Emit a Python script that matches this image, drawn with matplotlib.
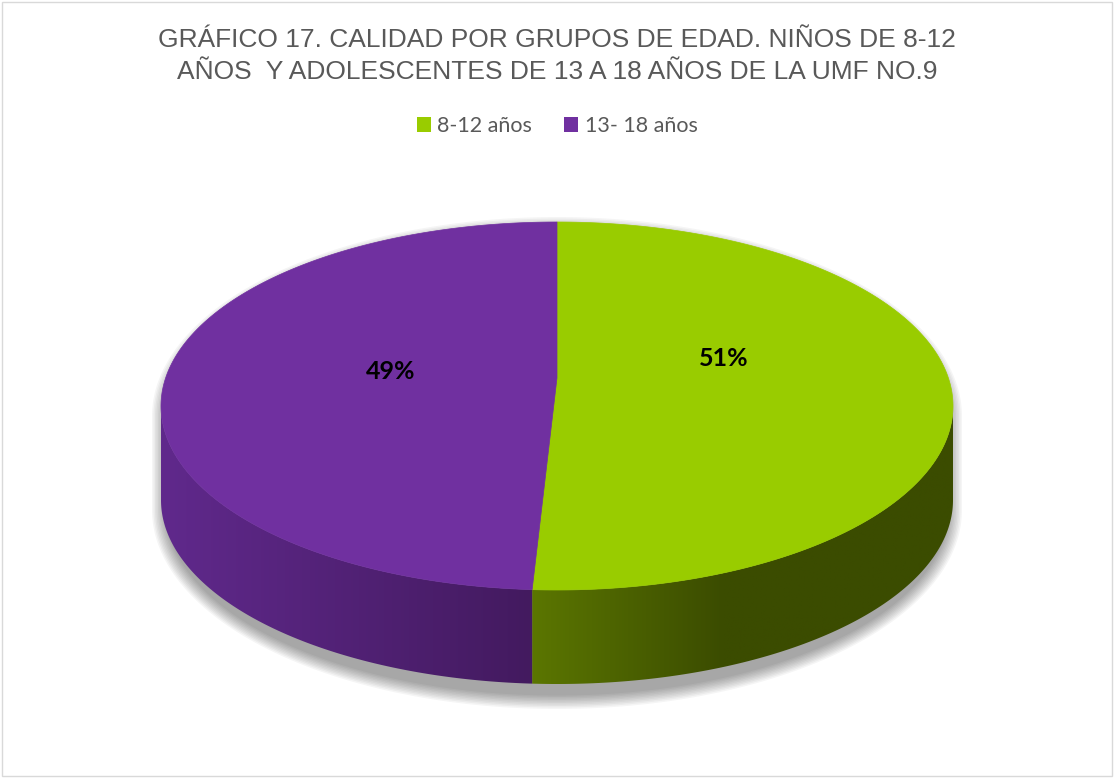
import matplotlib
matplotlib.use('Agg')
import matplotlib.pyplot as plt
import numpy as np
from matplotlib.patches import Polygon, Rectangle
from matplotlib.colors import to_rgb

# datos
categorias = ['8-12 años', '13- 18 años']
valores = [51, 49]
colores_top = ['#99CC00', '#7030A0']
# degradado de las paredes laterales (inicio, fin)
colores_lado = [('#5b7600', '#3b4c00'), ('#60298c', '#431a5f')]

titulo = ('GRÁFICO 17. CALIDAD POR GRUPOS DE EDAD. NIÑOS DE 8-12\n'
          'AÑOS  Y ADOLESCENTES DE 13 A 18 AÑOS DE LA UMF NO.9')

W, H = 1114, 778
fig = plt.figure(figsize=(W / 100, H / 100), dpi=100)
ax = fig.add_axes([0, 0, 1, 1])
ax.set_xlim(0, W)
ax.set_ylim(H, 0)
ax.axis('off')

# geometría de la tarta (px)
cx, cy = 557, 406
a, b = 396, 184
depth = 94
apex = (557, 378)


def punto(theta_deg, dy=0):
    t = np.radians(theta_deg)
    return cx + a * np.cos(t), cy - b * np.sin(t) + dy


# ángulos de cada porción (sentido horario desde arriba)
total = sum(valores)
inicio = 90.0
angulos = []
for v in valores:
    fin = inicio - 360.0 * v / total
    angulos.append((inicio, fin))
    inicio = fin

# sombra difusa
th = np.linspace(0, 360, 400)
for k in range(10, 0, -1):
    grow = k * 1.5
    sx = cx + (a + grow - 6) * np.cos(np.radians(th))
    sy = cy + 10 - (b + grow) * np.sin(np.radians(th))
    sy = np.where(np.sin(np.radians(th)) < 0, sy + depth, sy)
    ax.add_patch(Polygon(np.column_stack([sx, sy]), closed=True,
                         facecolor='#000000', edgecolor='none',
                         alpha=0.04, zorder=1))

# paredes laterales (mitad frontal)
for (t1, t2), (c0, c1) in zip(angulos, colores_lado):
    lo, hi = min(t1, t2), max(t1, t2)
    segs = []
    for off in (-360, 0, 360):
        s, e = max(lo + off, 180), min(hi + off, 360)
        if e > s:
            segs.append((s, e))
    for s, e in segs:
        tt = np.linspace(s, e, 200)
        top = np.array([punto(t) for t in tt])
        bot = np.array([punto(t, depth) for t in tt[::-1]])
        poly = Polygon(np.vstack([top, bot]), closed=True,
                       facecolor='none', edgecolor='none', zorder=2)
        ax.add_patch(poly)
        x0, x1 = top[:, 0].min(), top[:, 0].max()
        n = 256
        r0, r1 = np.array(to_rgb(c0)), np.array(to_rgb(c1))
        if c0 == colores_lado[0][0]:
            # verde: oscurece rápido desde la unión
            f = np.clip(np.linspace(0, 1, n) * 2.2, 0, 1)
        else:
            f = np.linspace(0, 1, n)
        grad = r0[None, :] * (1 - f[:, None]) + r1[None, :] * f[:, None]
        img = np.tile(grad[None, :, :], (2, 1, 1))
        im = ax.imshow(img, extent=[x0, x1, cy + b + depth + 5, cy - 5],
                       aspect='auto', zorder=2, interpolation='bilinear')
        im.set_clip_path(poly)

# cara superior
for (t1, t2), col in zip(angulos, colores_top):
    tt = np.linspace(t1, t2, 300)
    pts = np.array([punto(t) for t in tt])
    pts = np.vstack([[apex], pts])
    ax.add_patch(Polygon(pts, closed=True, facecolor=col,
                         edgecolor=col, linewidth=0.5, zorder=3))

# etiquetas de porcentaje
desp_y = [-48, -35]
for (t1, t2), v, dy in zip(angulos, valores, desp_y):
    mid = np.radians((t1 + t2) / 2)
    x = cx + 0.42 * a * np.cos(mid)
    ax.text(x, cy + dy, f'{v}%', ha='center', va='center',
            fontsize=18, fontweight='bold', color='black',
            family='Lato', zorder=5)

# título
fig.text(0.5, 1 - 56 / H, titulo, ha='center', va='center',
         fontsize=19, color='#595959', family='Liberation Sans',
         linespacing=1.4)

# leyenda
handles = [Rectangle((0, 0), 1, 1, facecolor=c, edgecolor='none')
           for c in colores_top]
fig.legend(handles, categorias, loc='center', bbox_to_anchor=(0.5, 1 - 126 / H),
           ncol=2, frameon=False, handlelength=0.65, handleheight=0.65,
           handletextpad=0.3, columnspacing=1.5,
           prop={'family': 'Lato', 'size': 15.5}, labelcolor='#595959')

# marco
fig.patches.append(Rectangle((0.002, 0.002), 0.996, 0.996, transform=fig.transFigure,
                             fill=False, edgecolor='#d9d9d9', linewidth=1))

fig.savefig('out.png', dpi=100, facecolor='white')
